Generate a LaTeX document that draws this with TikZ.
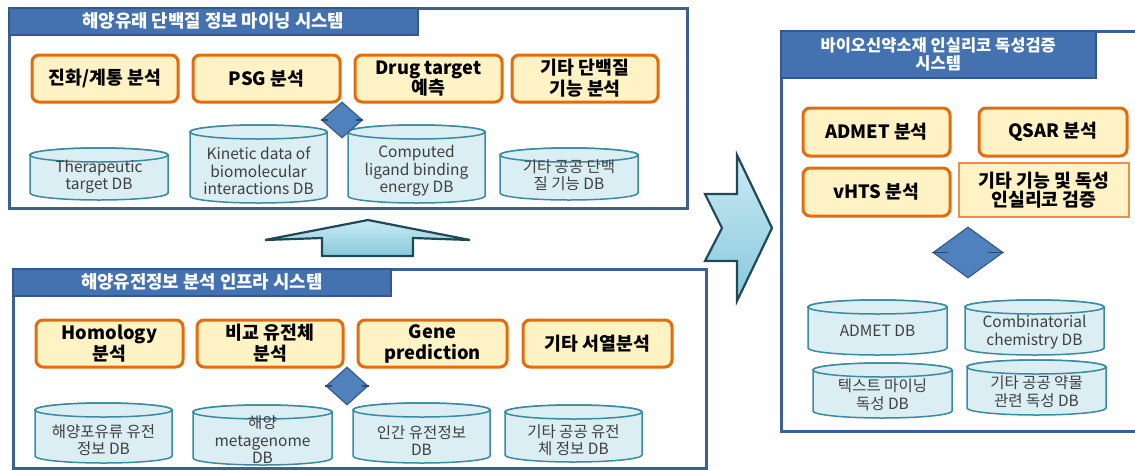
\documentclass[tikz,border=0pt]{standalone}
\usepackage{fontspec}
\setmainfont{Noto Sans CJK KR}
\usetikzlibrary{shapes.geometric}
\definecolor{panelblue}{HTML}{3D5F93}
\definecolor{barblue}{HTML}{4471B0}
\definecolor{bardark}{HTML}{34578C}
\definecolor{boxfill}{HTML}{FFF2C4}
\definecolor{boxline}{HTML}{E46C0A}
\definecolor{cylfill}{HTML}{DBEEF4}
\definecolor{cylline}{HTML}{3A8BA0}
\definecolor{cyltext}{HTML}{3F3F3F}
\definecolor{diafill}{HTML}{4F81BD}
\definecolor{dialine}{HTML}{385D8A}
\definecolor{arrowline}{HTML}{1E4A58}
\definecolor{arrowtop}{HTML}{CBEAF3}
\definecolor{arrowbot}{HTML}{86C8DD}
\tikzset{
  panel/.style={draw=panelblue, line width=2.5pt, fill=white, anchor=north west, inner sep=0pt},
  titlebar/.style={draw=bardark, line width=1.5pt, fill=barblue, anchor=north west, text=white,
    font=\fontsize{17.8}{19}\selectfont\bfseries, align=center, inner sep=0pt},
  obox/.style={draw=boxline, line width=3pt, fill=boxfill, rounded corners=7pt, align=center,
    font=\fontsize{18.3}{21}\selectfont\bfseries, inner sep=0pt},
  sbox/.style={draw=boxline!75, line width=1.5pt, fill=boxfill, align=center,
    font=\fontsize{18.3}{19}\selectfont\bfseries, inner sep=0pt},
  cylshape/.style={draw=cylline, line width=1.5pt, fill=cylfill},
  cyltxt/.style={text=cyltext, align=center, font=\fontsize{15.5}{17.5}\selectfont, inner sep=0pt},
  dia/.style={diamond, draw=dialine, line width=1.2pt, fill=diafill, inner sep=0pt},
  diamark/.style={draw=dialine!80!black, line width=1.2pt},
  blockarrow/.style={draw=arrowline, line width=2.2pt, top color=arrowtop, bottom color=arrowbot, line join=miter}
}
% name, x1, y1 (top), x2, y2 (bottom), text centre y, text
\newcommand\dbcyl[7]{%
  \pgfmathsetmacro\cylrx{(#4-#2)/2}%
  \pgfmathsetmacro\cylcx{(#4+#2)/2}%
  \path[cylshape] (#2,#3+7) -- (#2,#5-7)
     arc[start angle=180, end angle=360, x radius=\cylrx pt, y radius=7pt]
     -- (#4,#3+7)
     arc[start angle=0, end angle=180, x radius=\cylrx pt, y radius=7pt] -- cycle;
  \path[cylshape] (\cylcx,#3+7) ellipse[x radius=\cylrx pt, y radius=7pt];
  \node[cyltxt] (#1) at (\cylcx,#6) {#7};
}
\begin{document}
\begin{tikzpicture}[x=1pt, y=-1pt]
\useasboundingbox (0,0) rectangle (1135,469);

% panels
\node[panel, minimum width=678pt, minimum height=200pt] (p1) at (8,7) {};
\node[panel, minimum width=693pt, minimum height=199pt] (p2) at (12,268) {};
\node[panel, minimum width=370pt, minimum height=400pt] (p3) at (780,30) {};

\node[titlebar, minimum width=409pt, minimum height=27pt] (t1) at (8,7) {해양유래 단백질 정보 마이닝 시스템};
\node[titlebar, minimum width=378pt, minimum height=27pt] (t2) at (12,268) {해양유전정보 분석 인프라 시스템};
\node[titlebar, minimum width=315pt, minimum height=47pt, font=\fontsize{16.5}{18.5}\selectfont\bfseries] (t3) at (780,30) {바이오신약소재 인실리코 독성검증\\시스템};

% block arrows
\path[blockarrow] (265,240) -- (368,220) -- (470,240) -- (413,238) -- (413,256) -- (322,256) -- (322,238) -- cycle;
\path[blockarrow] (737,155) -- (772,228) -- (737,301) -- (737,261) -- (705,261) -- (722,228) -- (705,194) -- (737,194) -- cycle;

% top panel boxes
\node[obox, minimum width=146pt, minimum height=47pt] (b1) at (105,78.5) {진화/계통 분석};
\node[obox, minimum width=147pt, minimum height=47pt] (b2) at (266.5,78.5) {PSG 분석};
\node[obox, minimum width=147pt, minimum height=47pt, font=\fontsize{18.3}{19}\selectfont\bfseries] (b3) at (428.5,78.5) {Drug target\\예측};
\node[obox, minimum width=146pt, minimum height=47pt] (b4) at (585,78.5) {기타 단백질\\기능 분석};

% bottom panel boxes
\node[obox, minimum width=147pt, minimum height=47pt] (c1) at (109.5,343.5) {Homology\\분석};
\node[obox, minimum width=146pt, minimum height=47pt] (c2) at (270,343.5) {비교 유전체\\분석};
\node[obox, minimum width=149pt, minimum height=47pt] (c3) at (432.5,343.5) {Gene\\prediction};
\node[obox, minimum width=149pt, minimum height=47pt] (c4) at (597.5,343.5) {기타 서열분석};

% right panel boxes
\node[obox, minimum width=147pt, minimum height=48pt] (r1) at (876.5,132) {ADMET 분석};
\node[obox, minimum width=148pt, minimum height=48pt] (r2) at (1053,132) {QSAR 분석};
\node[obox, minimum width=147pt, minimum height=48pt] (r3) at (876.5,192) {vHTS 분석};
\node[sbox, minimum width=170pt, minimum height=54pt] (r4) at (1044,190) {기타 기능 및 독성\\인실리코 검증};

% databases
\dbcyl{cy1}{30}{148}{168}{200}{177}{Therapeutic\\target DB}
\dbcyl{cy2}{190}{125}{327}{203}{171}{Kinetic data of\\biomolecular\\interactions DB}
\dbcyl{cy3}{348}{125}{485}{203}{171}{Computed\\ligand binding\\energy DB}
\dbcyl{cy4}{500}{148}{638}{200}{175}{기타 공공 단백\\질 기능 DB}

\dbcyl{dy1}{35}{403}{172}{463}{440}{해양포유류 유전\\정보 DB}
\dbcyl{dy2}{193}{405}{332}{465}{440}{해양\\metagenome\\DB}
\dbcyl{dy3}{353}{403}{490}{463}{440.5}{인간 유전정보\\DB}
\dbcyl{dy4}{505}{405}{642}{462}{440}{기타 공공 유전\\체 정보 DB}

\dbcyl{ey1}{808}{300}{947}{355}{331}{ADMET DB}
\dbcyl{ey2}{965}{300}{1104}{355}{332}{Combinatorial\\chemistry DB}
\dbcyl{ey3}{813}{363}{952}{418}{394.5}{텍스트 마이닝\\독성 DB}
\dbcyl{ey4}{967}{360}{1106}{415}{391.5}{기타 공공 약물\\관련 독성 DB}

% diamonds
\node[dia, minimum width=41pt, minimum height=36pt] (d1) at (342,120) {};
\node[dia, minimum width=42pt, minimum height=38pt] (d2) at (347,386) {};
\node[dia, minimum width=70pt, minimum height=51pt] (d3) at (968,252.5) {};
\draw[diamark] (d1.west) -- ++(7,0);
\draw[diamark] (d1.east) -- ++(-7,0);
\draw[diamark] (d2.west) -- ++(7,0);
\draw[diamark] (d2.east) -- ++(-7,0);
\draw[diamark] (d3.west) -- ++(16,0);
\draw[diamark] (d3.east) -- ++(-16,0);
\end{tikzpicture}
\end{document}
